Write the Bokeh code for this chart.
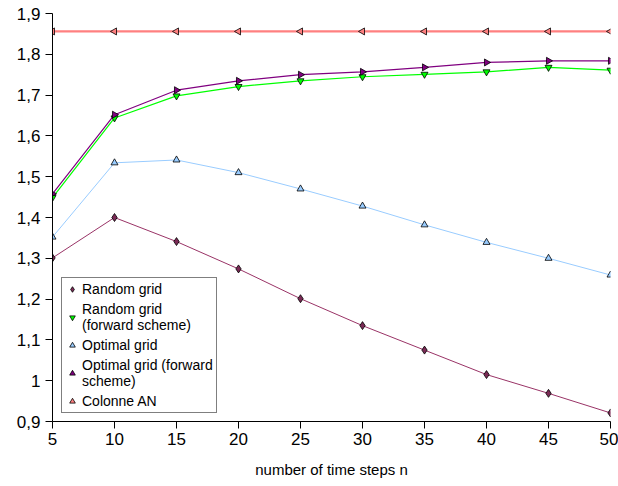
from bokeh.plotting import figure
from bokeh.models import Range1d, FixedTicker, CustomJSTickFormatter, Legend, LegendItem
from bokeh.embed import file_html
from bokeh.resources import INLINE
import math

n_steps = [5, 10, 15, 20, 25, 30, 35, 40, 45, 50]
random_grid = [1.301, 1.400, 1.341, 1.274, 1.201, 1.135, 1.075, 1.015, 0.969, 0.921]
random_grid_fwd = [1.449, 1.644, 1.698, 1.721, 1.735, 1.745, 1.751, 1.757, 1.768, 1.761]
optimal_grid = [1.352, 1.534, 1.541, 1.510, 1.470, 1.428, 1.382, 1.339, 1.300, 1.259]
optimal_grid_fwd = [1.458, 1.652, 1.712, 1.735, 1.750, 1.757, 1.768, 1.780, 1.784, 1.784]
colonne_an = [1.856, 1.856, 1.856, 1.856, 1.856, 1.856, 1.856, 1.856, 1.856, 1.856]

x_ticks = [5, 10, 15, 20, 25, 30, 35, 40, 45, 50]
y_ticks = [0.9, 1.0, 1.1, 1.2, 1.3, 1.4, 1.5, 1.6, 1.7, 1.8, 1.9]
y_tick_labels = ["0,9", "1", "1,1", "1,2", "1,3", "1,4", "1,5", "1,6", "1,7", "1,8", "1,9"]

FONT = "Liberation Sans"

p = figure(width=618, height=486, output_backend="svg", toolbar_location=None,
           x_range=Range1d(5, 50), y_range=Range1d(0.9, 1.9),
           min_border_left=52, min_border_right=8, min_border_top=13, min_border_bottom=65)
p.outline_line_color = None
p.xgrid.visible = False
p.ygrid.visible = False
p.background_fill_color = "white"

series = [
    ("Random grid", random_grid, "#993366", "#7a2a55", "diamond", 0, 1, 8),
    ("Random grid\n(forward scheme)", random_grid_fwd, "#00ff00", "#00ff00", "inverted_triangle", 0, 1.2, 7),
    ("Optimal grid", optimal_grid, "#99ccff", "#99ccff", "triangle", 0, 1, 7),
    ("Optimal grid (forward\nscheme)", optimal_grid_fwd, "#800080", "#800080", "triangle", -math.pi / 2, 1.2, 7),
    ("Colonne AN", colonne_an, "#ff8080", "#ff8080", "triangle", math.pi / 2, 2.2, 7),
]

items = []
for label, ys, lc, fc, marker, ang, lw, sz in series:
    p.line(n_steps, ys, line_color=lc, line_width=lw)
    r = p.scatter(n_steps, ys, marker=marker, angle=ang, size=sz,
                  fill_color=fc, line_color="black", line_width=0.8)
    items.append(LegendItem(label=label, renderers=[r]))

legend = Legend(items=items, location=(9, 8))
legend.border_line_color = "black"
legend.border_line_width = 1
legend.background_fill_color = "white"
legend.background_fill_alpha = 1
legend.label_text_font = FONT
legend.label_text_font_size = "14px"
legend.label_text_color = "black"
legend.label_height = 16
legend.glyph_width = 14
legend.glyph_height = 16
legend.label_standoff = 3
legend.spacing = 4
legend.padding = 3
legend.margin = 0
legend.label_text_line_height = 1.15
p.add_layout(legend, "center")

for ax in (p.xaxis[0], p.yaxis[0]):
    ax.axis_line_color = "black"
    ax.axis_line_width = 1
    ax.major_tick_line_color = "black"
    ax.major_tick_out = 7
    ax.major_tick_in = 0
    ax.minor_tick_line_color = None
    ax.major_label_text_font = FONT
    ax.major_label_text_font_size = "17px"
    ax.major_label_text_color = "black"

p.xaxis.ticker = FixedTicker(ticks=x_ticks)
p.xaxis.major_label_standoff = 4
p.xaxis.axis_label = "number of time steps n"
p.xaxis.axis_label_text_font = FONT
p.xaxis.axis_label_text_font_size = "15px"
p.xaxis.axis_label_text_font_style = "normal"
p.xaxis.axis_label_text_color = "black"
p.xaxis.axis_label_standoff = 13

p.yaxis.ticker = FixedTicker(ticks=y_ticks)
p.yaxis.major_label_standoff = 5
p.yaxis.formatter = CustomJSTickFormatter(args=dict(vals=y_ticks, labs=y_tick_labels), code="""
for (let i = 0; i < vals.length; i++) { if (Math.abs(vals[i] - tick) < 1e-6) return labs[i]; }
return tick.toString();
""")

open("out.html", "w").write(file_html(p, INLINE))
